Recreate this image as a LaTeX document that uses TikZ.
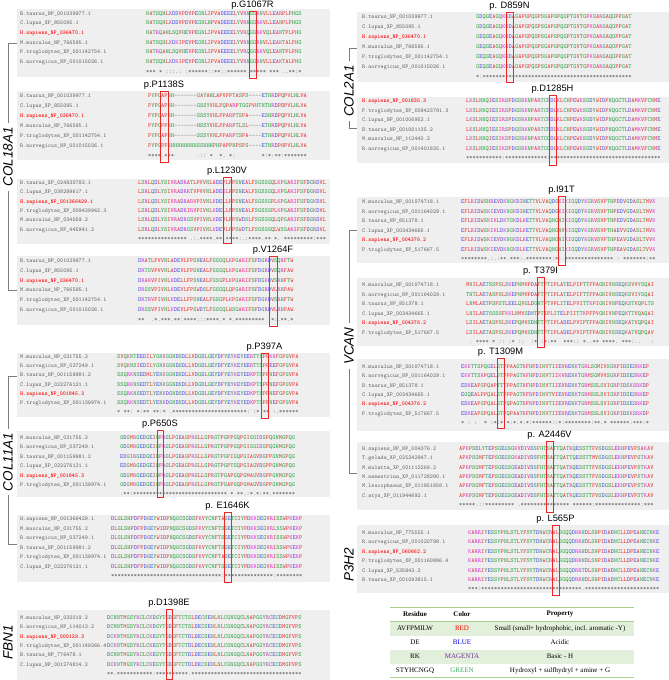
\documentclass[tikz,border=0pt]{standalone}
\usepackage{fontspec}
\setmainfont{Liberation Serif}
\setsansfont{Liberation Sans}
\usetikzlibrary{positioning}

\definecolor{aared}{RGB}{232,48,48}
\definecolor{aablue}{RGB}{72,72,232}
\definecolor{aamag}{RGB}{215,45,215}
\definecolor{aagreen}{RGB}{40,160,65}
\definecolor{aagap}{RGB}{120,120,120}
\definecolor{panelgray}{RGB}{239,239,239}
\definecolor{namegray}{RGB}{95,95,95}
\definecolor{brkgray}{RGB}{125,125,125}
\definecolor{mutred}{RGB}{232,40,40}
\definecolor{tabband}{RGB}{226,239,218}
\definecolor{tabline}{RGB}{169,208,142}
\definecolor{tabpurple}{RGB}{112,48,160}
\definecolor{tabgreen}{RGB}{60,170,100}

\tikzset{
  sp/.style={anchor=west, inner sep=0pt, text=namegray, text height=4pt, text depth=1pt,
    font=\fontsize{5.8}{6}\selectfont\ttfamily},
  hs/.style={sp, text=red, font=\fontsize{5.8}{6}\selectfont\ttfamily\bfseries},
  aa/.style={anchor=west, inner sep=0pt, text height=4.3pt, text depth=1.2pt,
    font=\fontsize{6.1}{6}\selectfont\ttfamily},
  cons/.style={aa, text=namegray},
  panel/.style={fill=panelgray},
  mutbox/.style={draw=mutred, line width=0.9pt, inner sep=0pt},
  mlab/.style={inner sep=0.5pt, text height=6.8pt, text depth=1.9pt, font=\fontsize{9.3}{10}\selectfont\sffamily},
  gene/.style={rotate=90, inner xsep=4pt, inner ysep=0pt, font=\fontsize{13.5}{14}\selectfont\sffamily\itshape},
  brk/.style={draw=brkgray, line width=0.6pt},
  th/.style={font=\fontsize{7}{8}\selectfont\bfseries},
  td/.style={font=\fontsize{7}{8}\selectfont},
}

\begin{document}
\begin{tikzpicture}[x=1pt,y=-1pt]
  \useasboundingbox (0,0) rectangle (669,680);

  %% residue colours
  \foreach \res in {A,V,F,P,M,I,L,W}{\expandafter\gdef\csname rcl\res\endcsname{\color{aared}}}
  \foreach \res in {D,E}{\expandafter\gdef\csname rcl\res\endcsname{\color{aablue}}}
  \foreach \res in {R,K}{\expandafter\gdef\csname rcl\res\endcsname{\color{aamag}}}
  \foreach \res in {S,T,Y,H,C,N,G,Q}{\expandafter\gdef\csname rcl\res\endcsname{\color{aagreen}}}
  \expandafter\gdef\csname rcl-\endcsname{\color{aagap}}

  \newcommand\aaseq[1]{\aaloop#1\relax}
  \def\aaloop#1{\ifx\relax#1\else{\csname rcl#1\endcsname#1}\expandafter\aaloop\fi}
  \newcommand\seqrow[5][sp]{\node[#1] (#2) at (\nmx,#3) {#4}; \node[aa] (#2s) at (\sqx,#3) {\aaseq{#5}};}
  \newcommand\consrow[3]{\node[cons] (#1) at (\sqx,#2) {#3};}
  \newcommand\mutat[6]{\node[mutbox, minimum width=#4, minimum height=#5] (#1) at (#2,#3) {};
    \node[mlab, above=0pt of #1] (#1l) {#6};}

  %% ---------------- left column ----------------
  \fill[panel] (17,9) rectangle (330,77); %% G1067R
  \def\nmx{20}\def\sqx{146}
  \seqrow{a1}{13.5}{B.taurus\_NP\_001039977.1}{NATSQHLKDDVPDVPEGNLIPVADEEELYVRNGGRNVLLEARPLPHGS}
  \seqrow{a2}{23.2}{C.lupus\_XP\_855095.1}{NATSQHLKDDVPDVPEGNLHPVADEEELYVRNGGRKVLLEANPLPHGS}
  \seqrow[hs]{a3}{32.9}{H.sapiens\_NP\_036470.1}{NATRQAHLSQVHEVPEGNLIPVAEEEELYVRQGGRKVQLEANTPLPHG}
  \seqrow{a4}{42.6}{M.musculus\_NP\_766595.1}{NATSQHLKDKIPEVPEGNLIPVADEEELYVRNGGRNVLLEAKTALPHG}
  \seqrow{a5}{52.3}{P.troglodytes\_XP\_001142754.1}{NATRQAHLSQVHEVPEGNLIPVAEEEELYVRQGGRKVQLEANTPLPHG}
  \seqrow{a6}{62}{R.norvegicus\_NP\_001015026.1}{NATSQHLKDKIPEVPEGNLIPVADEEELYVRNGGRNVLLEAKTALPHG}
  \consrow{a7}{71.7}{***~*~:::.:~:******::**::******.*****~***~..**:*}
  \mutat{m1}{252.5}{44.5}{7}{67}{p.G1067R}

  \fill[panel] (17,91) rectangle (330,160); %% P1138S
  \def\nmx{20}\def\sqx{148}
  \seqrow{b1}{96}{B.taurus\_NP\_001039977.1}{PYPGAPHH-------GAYAHLAPVPPTASPS----ETHRDPQPVLHLVA}
  \seqrow{b2}{106}{C.lupus\_XP\_855095.1}{PYPGAPHH-------GSSYVHLPQPARPTGGPVHTHTHRDPDPVLHLVA}
  \seqrow[hs]{b3}{116}{H.sapiens\_NP\_036470.1}{PYPGAPHH-------SSSYVHLPPARPTSPA----ESHRDPQPVLHLVA}
  \seqrow{b4}{126}{M.musculus\_NP\_766595.1}{PYPGPPHH-------HSSYVHLPPARPTLSL----ETHRDPQPVLHLVA}
  \seqrow{b5}{136}{P.troglodytes\_XP\_001142754.1}{PYPGAPHH-------SSSYVHLPPARPTSPA----ETHRDPQPVLHLVA}
  \seqrow{b6}{146}{R.norvegicus\_NP\_001015026.1}{PYPGPPHHHHHHHHHSSHHHPHPAPPHPSPS----ETHRDPHPVLHLVA}
  \consrow{b7}{155.5}{****.***~~~~~~~.::~*~~*.~*:~~~~~~~~*:*:**:*******}
  \mutat{m2}{164}{126.5}{8}{71}{p.P1138S}

  \fill[panel] (17,179) rectangle (330,244); %% L1230V
  \def\nmx{20}\def\sqx{138}
  \seqrow{c1}{183}{B.taurus\_XP\_024830782.1}{LSRLQDLYSIVRADRATLPVVNLADEPLFPSNEALFSGSSGQLKPGARIFSFDGRDVL}
  \seqrow{c2}{192.3}{C.lupus\_XP\_038299617.1}{LSRLQDLYSIVRADRRTVPVVNLADEKLFPSNEALFSGSSGQLKPGARIFSFDGRDVL}
  \seqrow[hs]{c3}{201.6}{H.sapiens\_NP\_001366429.1}{LSRLQDLYSIVRADRARVPIVNLKDELLFPSNEALFSGSSGPLKPGARIFSFDGKDVL}
  \seqrow{c4}{210.9}{P.troglodytes\_XP\_009439942.3}{LSRLQDLYSIVRADRIRVPIVNLKDELLFPSNEALFSGSSGPLKPGARIFSFDGKDVL}
  \seqrow{c5}{220.2}{M.musculus\_NP\_034059.2}{LSRLQDLYSIVRADRGSVPIVNLKDEVLFPSWDSLFSGSGGQLQPGARIFSFDGRDVL}
  \seqrow{c6}{229.5}{R.norvegicus\_NP\_445941.2}{LSRLQDLYSIVRADRGSVPIVNLKDEVLFPSWDTLFSGSGGQLWSGARIFSFDGRDVL}
  \consrow{c7}{238.8}{***************~.:.****.**:****:.:****.**~*.~*********:***}
  \mutat{m3}{227}{210}{8}{66}{p.L1230V}

  \fill[panel] (17,256) rectangle (330,325); %% V1264F
  \def\nmx{20}\def\sqx{138}
  \seqrow{d1}{261}{B.taurus\_NP\_001039977.1}{DRATLPVVNLADEVLFPSNEALFGSGQLKPGARIFSFDGRDVSQRFTW}
  \seqrow{d2}{270.8}{C.lupus\_XP\_855095.1}{DRTGVPVVNLADEVLFPSNEALFGSGQLKPGARIFSFDGRDVSQRFAW}
  \seqrow[hs]{d3}{280.6}{H.sapiens\_NP\_036470.1}{DRARVPIVNLKDELLFPSNEALFGSGPLKPGARIFSFDGKDVSRHFTW}
  \seqrow{d4}{290.4}{M.musculus\_NP\_766595.1}{DRGSVPIVNLKDEVLFPSWDSLFGSGQLQPGARIFSFDGRDVLRHPAW}
  \seqrow{d5}{300.2}{P.troglodytes\_XP\_001142754.1}{DRTRVPIVNLKDELLFPSNEALFGSGPLKPGARIFSFDGKDVSRHFTW}
  \seqrow{d6}{310}{R.norvegicus\_NP\_001015026.1}{DRGSVPIVNLKDEVLFPSWDTLFGSGQLWSGARIFSFDGRDVLRHPAW}
  \consrow{d7}{319.8}{**~~.*.***.**:****:::****.*~*.*********~.*:.**.*}
  \mutat{m4}{273}{291}{8}{70}{p.V1264F}

  \fill[panel] (17,353) rectangle (330,417); %% P397A
  \def\nmx{20}\def\sqx{117}
  \seqrow{e1}{357}{M.musculus\_NP\_031755.2}{SVQKNTEEDILYGNKGGNDSDLLVDGDLGEYDFYEYKEYEERTTSPPKKFGPGVPA}
  \seqrow{e2}{366.2}{R.norvegicus\_NP\_037249.1}{SVQKNSIEDILYGNKGGNDSDLLVDGDLGEYDFYEYKEYEERTTSPPEEFGPGVPA}
  \seqrow{e3}{375.4}{B.taurus\_NP\_001159981.2}{SSQRKNSEDMLYENKGGNDSDLLVDGDLGEYDFYEYKEYEDKPTSPPNEFGPGVPA}
  \seqrow{e4}{384.6}{C.lupus\_XP\_022276121.1}{SSQRKNSEDTLYENKGGNDSDLLVDGDLGEYDFYEYKEYEDKPTSPPNEFGPGVPA}
  \seqrow[hs]{e5}{393.8}{H.sapiens\_NP\_001845.3}{SSQRKNSEDTLYENKDGNDSDLLVDGDLGEYDFYEYKEYEDKPTSPPNEFGPGVPA}
  \seqrow{e6}{403}{P.troglodytes\_XP\_001139974.1}{SSQRKNSEDTLYENKDGNDSDLLVDGDLGEYDFYEYKEYEDKPTSPPNEFGPGVPA}
  \consrow{e7}{412.2}{*~**:~*:**~**:*~.***********************:~:*~**~:.******}
  \mutat{m5}{264.5}{385.5}{7}{65}{p.P397A}

  \fill[panel] (17,431) rectangle (330,497); %% P650S
  \def\nmx{20}\def\sqx{120}
  \seqrow{f1}{438}{M.musculus\_NP\_031755.2}{GDGMRGEDGEIGPRGLPGEAGPRGLLGPRGTPGPPGQPGIGGIDGPQGNMGPQG}
  \seqrow{f2}{447.4}{R.norvegicus\_NP\_037249.1}{GDGMRGEDGEIGPRGLPGEAGPRGLLGPRGTPGPPGQPGIGGIDGPQGNMGPQG}
  \seqrow{f3}{456.8}{B.taurus\_NP\_001159981.2}{EDGIRGEDGEIGPRGLPGEAGPRGLLGPRGTPGPIGQPGIAGVDGPPGNMGPQG}
  \seqrow{f4}{466.2}{C.lupus\_XP\_022276121.1}{EDGMRGEDGEIGPRGLPGEAGPRGLLGPRGTPGPTGQPGIAGVDGPPGNMGPQG}
  \seqrow[hs]{f5}{475.6}{H.sapiens\_NP\_001845.3}{GDGMRGEDGEIGPRGLPGEAGPRGLLGPRGTPGAPGQPGMAGVDGPPGNMGPQG}
  \seqrow{f6}{485}{P.troglodytes\_XP\_001139974.1}{GDGMRGEDGEIGPRGLPGEAGPRGLLGPRGTPGAPGQPGMAGVDGPPGNMGPQG}
  \consrow{f7}{494.4}{.**:*****************************~*~**.:*.*:**.*******}
  \mutat{m6}{160}{463.5}{6}{67}{p.P650S}

  \fill[panel] (17,515) rectangle (330,582); %% E1646K
  \def\nmx{20}\def\sqx{111}
  \seqrow{g1}{519}{H.sapiens\_NP\_001366429.1}{DLGLSHPDFPDGEYWIDPNQGCSGDSFKVYCNFTAGETCIYPDKKSEGVRISSWPKEKP}
  \seqrow{g2}{528.5}{M.musculus\_NP\_031755.2}{DLGLSHPDFPDGEYWIDPNQGCSGDSFKVYCNFTSGETCIYPDKKSEGVRLSSWPKEKP}
  \seqrow{g3}{538}{R.norvegicus\_NP\_037249.1}{DLGLSHPDFPDGEYWIDPNQGCSGDSFKVYCNFTSGETCIYPDKKSEGVRISSWPKEKP}
  \seqrow{g4}{547.5}{B.taurus\_NP\_001159981.2}{DLGLSHPDFPDGEYWIDPNQGCSGDSFKVYCNFTSGETCIYPDKKSEGVRISSWPKEKP}
  \seqrow{g5}{557}{P.troglodytes\_XP\_001139974.1}{DLGLSHPDFPDGEYWIDPNQGCSGDSFKVYCNFTAGETCIYPDKKSEGVRISSWPKEKP}
  \seqrow{g6}{566.5}{C.lupus\_XP\_022276121.1}{DLGLSHPDFPDGEYWIDPNQGCSGDSFKVYCNFTSGETCIYPDKKSEGVRISSWPKEKP}
  \consrow{g7}{576}{**********************************:***************:********}
  \mutat{m7}{227.5}{547}{7}{70}{p. E1646K}

  \fill[panel] (17,610) rectangle (330,680); %% D1398E
  \def\nmx{20}\def\sqx{107}
  \seqrow{h1}{618}{M.musculus\_NP\_032019.2}{DCNNTMGSYRCLCKDGYTGDGFTCTSLDECSENLNLCGNGQCLNAPGGYRCECDMGFVPS}
  \seqrow{h2}{627.3}{R.norvegicus\_NP\_114013.2}{DCNNTMGSYRCLCKDGYTGDGFTCTSLDECSENLNLCGNGQCLNAPGGYRCECDMGFVPS}
  \seqrow[hs]{h3}{636.6}{H.sapiens\_NP\_000129.3}{DCKNTMGSYRCLCKEGYTGDGFTCTDLDECSENLNLCGNGQCLNAPGGYRCECDMGFVPS}
  \seqrow{h4}{645.9}{P.troglodytes\_XP\_001149266.4}{DCKNTMGSYRCLCKEGYTGDGFTCTDLDECSENLNLCGNGQCLNAPGGYRCECDMGFVPS}
  \seqrow{h5}{655.2}{B.taurus\_NP\_776478.1}{DCNNTMGSYRCLCKEGYTGDGFTCTDLDECSENLNLCGNGQCLNAPGGYRCECDMGFVPS}
  \seqrow{h6}{664.5}{C.lupus\_NP\_001274814.2}{DCKNTMGSYRCLCKEGYTGDGFTCTDLDECSENLNLCGNGQCLNAPGGYRCECDMGFVPS}
  \consrow{h7}{673.8}{**.***********:**********.**********************************}
  \mutat{m8}{169}{644}{6}{70}{p.D1398E}

  %% ---------------- right column ----------------
  \fill[panel] (357,12) rectangle (669,82); %% D859N
  \def\nmx{362}\def\sqx{476}
  \seqrow{i1}{16.5}{B.taurus\_NP\_001039977.1}{GDQGEAGQKGDAGAPGPQGPSGAPGPQGPTGVTGPKGARGAQGPPGAT}
  \seqrow{i2}{26.5}{C.lupus\_XP\_855095.1}{GDQGEAGQKGDAGAPGPQGPSGAPGPQGPTGVTGPKGARGAQGPPGAT}
  \seqrow[hs]{i3}{36.5}{H.sapiens\_NP\_036470.1}{GEQGEAGQKGDAGAPGPQGPSGAPGPQGPTGVTGPKGARGAQGPPGAT}
  \seqrow{i4}{46.5}{M.musculus\_NP\_766595.1}{GEQGEAGQKGDAGAPGPQGPSGAPGPQGPTGVTGPKGARGAQGPPGAT}
  \seqrow{i5}{56.5}{P.troglodytes\_XP\_001142754.1}{GEQGEAGQKGDAGAPGPQGPSGAPGPQGPTGVTGPKGARGAQGPPGAT}
  \seqrow{i6}{66.5}{R.norvegicus\_NP\_001015026.1}{GEQGEAGQKGDAGAPGPQGPSGAPGPQGPTGVTGPKGARGAQGPPGAT}
  \consrow{i7}{76.5}{*:**********************************************}
  \mutat{n1}{509.5}{47}{7}{70}{p. D859N}

  \fill[panel] (357,97) rectangle (669,163); %% D1285H
  \def\nmx{362}\def\sqx{466}
  \seqrow[hs]{j1}{101}{H.sapiens\_NP\_001835.3}{LKSLNNQIESIRSPDGSRKNPARTCRDLKLCHPEWKSGDYWIDPNQGCTLDAMKVFCNME}
  \seqrow{j2}{110.5}{P.troglodytes\_XP\_009423791.3}{LKSLNNQIESIRSPDGSRKNPARTCRDLKLCHPEWKSGDYWIDPNQGCTLDAMKVFCNME}
  \seqrow{j3}{120}{C.lupus\_NP\_001006952.1}{LKSLNNQIESIRSPDGSRKNPARTCRDLKLCHPEWKSGDYWIDPNQGCTLDAMKVFCNME}
  \seqrow{j4}{129.5}{B.taurus\_NP\_001001135.2}{LKSLNNQIESIRSPDGSRKNPARTCRDLKLCHPEWKSGDYWIDPNQGCTLDAMKVFCNME}
  \seqrow{j5}{139}{M.musculus\_NP\_112440.2}{LKSLNNQIESIKSPDGSRKNPARTCQDLKLCHPEWKSGDYWIDPNQGCTLDAMKVFCNME}
  \seqrow{j6}{148.5}{R.norvegicus\_NP\_001401825.1}{LKSLNNQIESIKSPDGSRKNPARTCQDLKLCHPEWKSGDYWIDPNQGCTLDAMKVFCNME}
  \consrow{j7}{158}{***********:*************:**********************************}
  \mutat{n2}{552.5}{130}{7}{70}{p.D1285H}

  \fill[panel] (357,197) rectangle (669,263); %% I91T
  \def\nmx{362}\def\sqx{461}
  \seqrow{k1}{202}{M.musculus\_NP\_001074718.1}{EFLRIDWSHREVDKNGKDIHETTVLVAQDGKIKIGQDYKGRVSVPTHPDDVGDASLTMVK}
  \seqrow{k2}{211.5}{R.norvegicus\_NP\_001164029.1}{EFLRIDWSKIEVDKNGKDIHETTVLVAQDGKIKIGQDYKGRVSVPTHPEDVGDASLTMVK}
  \seqrow{k3}{221}{B.taurus\_NP\_851378.1}{EFLRIDWSKIKLDKTGKDLKETTVLVAQNGNIKIGQDYKGRVSVPTHPEDVGDASLTMVK}
  \seqrow{k4}{230.5}{C.lupus\_XP\_003434665.1}{EFLRIDWSKIKLDKNGKDLKETTVLVAQNGNVKIGQDYKGRVSVPTHAEVVGDASLTMVK}
  \seqrow[hs]{k5}{240}{H.sapiens\_NP\_004376.2}{EFLRIDWSKIEVDKNGKDLKETTVLVAQNGNIKIGQDYKGRVSVPTHPEAVGDASLTVVK}
  \seqrow{k6}{249.5}{P.troglodytes\_XP\_517667.5}{EFLRIDWSKIEVDKNGKDLKETTVLVAQNGNIKIGQDYKGRVSVPTHPEAVGDASLTVVK}
  \consrow{k7}{259}{********.:.:**.***:.********:*:.***************~:~*******:**}
  \mutat{n3}{561.5}{230.5}{7}{69}{p.I91T}

  \fill[panel] (357,278) rectangle (669,346); %% T379I
  \def\nmx{362}\def\sqx{466}
  \seqrow{l1}{285}{M.musculus\_NP\_001074718.1}{MNILAETSSPSLSKEPNMVPDAFTPTIPLATELPIPTTFPAGNIVNSEQKSVVYSQAI}
  \seqrow{l2}{294.5}{R.norvegicus\_NP\_001164029.1}{TNTLAETASPSLSKEPNMVPDAFTPTIPLATELPIFTTFPAGNIVNSEQKSVIYSQAI}
  \seqrow{l3}{304}{B.taurus\_NP\_851378.1}{LNMLAETPSPSTLEELQVGLDGNTPTVPLITELPVITTKPIGNIVNPEQKSTVQPLTS}
  \seqrow{l4}{313.5}{C.lupus\_XP\_003434665.1}{LNILAETSSSSFKKLNMVSDNTPTIPLITELPIITTKPFPVGNIVNPEQKTTVQAQAI}
  \seqrow[hs]{l5}{323}{H.sapiens\_NP\_004376.2}{LSILAETASPSLSKEPQMVSDNTTPTIPLADELPVIPTFPAGNIVNSEQKATVQPQAI}
  \seqrow{l6}{332.5}{P.troglodytes\_XP\_517667.5}{LSILAETASPSLSKEPQMVSDNTTPTIPLADELPVIPTFPAGNIVSSEQKATVQPQAV}
  \consrow{l7}{342}{~.~****~*~::~:*~::~~:*~:*:**~~***::~*..**~****.~***:..~~~:}
  \mutat{n4}{540.5}{312}{7}{70}{p. T379I}

  \fill[panel] (357,359) rectangle (669,431); %% T1309M
  \def\nmx{362}\def\sqx{461}
  \seqrow{o1}{367}{M.musculus\_NP\_001074718.1}{EKKTTSPQGELSTPPAAGTKFHPDINVTIIEVRENKTGRLSGMIVSGRPIDSESRKEP}
  \seqrow{o2}{376.3}{R.norvegicus\_NP\_001164029.1}{EKKTTSKPQELSTPPPAGTKFHPDINVTIIKVRENKTGRMSGMVVSGRPIDSESRKEP}
  \seqrow{o3}{385.6}{B.taurus\_NP\_851378.1}{EDKEAPGPQAPTTTPPASTKFHPDINVTIIEVRENKTGRMSSLSVIGRPIDSKSRKDP}
  \seqrow{o4}{394.9}{C.lupus\_XP\_003434665.1}{EGQEALPPQALSTPPPAGTKFRPDINVTVIEVRENKTGRMSSLSVIGRPIDSESRKEP}
  \seqrow[hs]{o5}{404.2}{H.sapiens\_NP\_004376.2}{EDKEAPGPQALSTPQPAGTKFRPDINVTIIEVRENKTGRMSSLSVIGRPIDSESRKEP}
  \seqrow{o6}{413.5}{P.troglodytes\_XP\_517667.5}{EDKEAPGPQALSTPQPAATKFHPDINVTIIEVRENKTGRMSSLSVIGRPIDSKSRKDP}
  \consrow{o7}{422.8}{*~:~:~~*~:*:*~*:*.*.*:******::*:********:**.*~******:***:*}
  \mutat{n5}{500.5}{393}{7}{70}{p. T1309M}

  \fill[panel] (357,442) rectangle (669,510); %% A2446V
  \def\nmx{362}\def\sqx{459}
  \seqrow{q1}{449}{H.sapiens\_NP\_NP\_004376.2}{APKPSDLYTEPSGEGSGKVDIVDSFHTSATTQATRQESSTTFVSDGSLEKHPEVPSAKAV}
  \seqrow{q2}{458.3}{T.gelada\_XP\_025242847.1}{APKPSGMFTEPSGEGSGKADIVDSFHTSATTQATTQESSTTMVSDGSLEKHPEVPSTKAV}
  \seqrow{q3}{467.6}{M.mulatta\_XP\_001112269.2}{APKPSGMFTEPSGEGSGEADIVDSFHTSATTQATRQESSTTFVSDGSLEKHPEVPSTKAV}
  \seqrow{q4}{476.9}{M.nemestrina\_XP\_011728280.1}{APKPSGMFTEPSGEGSGEADIVDSFHTSATTQATRQESSTTFVSDGSLEKHPEVPSTKAV}
  \seqrow{q5}{486.2}{M.leucophaeus\_XP\_011851858.1}{APKPSGMFTEPSGEGSGEADIVDSFHTSATTQATRQESSTTFVSDGSLEKHPEVPSTKAV}
  \seqrow{q6}{495.5}{C.atys\_XP\_011944692.1}{APKPSGMFTEPSGEGSGEADIVDSFHTSATTQATRQESSTTFVSDGSLEKHPEVPSTKAV}
  \consrow{q7}{504.8}{*****.::*********~.***************~******:**************:***}
  \mutat{n6}{549.5}{476.5}{7}{71}{p. A2446V}

  \fill[panel] (357,525) rectangle (669,593); %% L565P
  \def\nmx{362}\def\sqx{468}
  \seqrow{u1}{533}{M.musculus\_NP\_775555.1}{KARRIYESSYPNLSTLYFSYTDNWCRALSGQQDRRNDLSNPIDADNCLLDPEANECNKE}
  \seqrow{u2}{542.4}{R.norvegicus\_NP\_001020798.1}{KARRIYESSYPNLSTLYFSYTDNWCRALSGQQDRRNDLSNPIDADNCLLDPEANECNKE}
  \seqrow[hs]{u3}{551.8}{H.sapiens\_NP\_060662.2}{KARRIYESSYPNLSTLYFSYTDNWCRALSGQQDRRNDLSNPIDADNCLLDPEANECNKE}
  \seqrow{u4}{561.2}{P.troglodytes\_XP\_001160886.4}{KARRIYESSYPNLSTLYFSYTDNWCRALSGQQDRRNDLSNPIDADNCLLDPEANECNKE}
  \seqrow{u5}{570.6}{C.lupus\_XP\_535843.2}{KARRIYESSYPNLSTLYFSYTDNWCRALSGQQDRRTDLSNPIDADNCLLDPEANECNKE}
  \seqrow{u6}{580}{B.taurus\_XP\_001093815.1}{KARRIYESSYPNLSTLYFSYTDNWCRALSGQQDRRNDLSNPIDADNCLLDPEANECNKE}
  \consrow{u7}{589.4}{***:*******************************.***********************}
  \mutat{n7}{555.5}{560}{7}{70}{p. L565P}

  %% ---------------- gene labels and brackets ----------------
  \node[gene] (col18) at (8,157) {COL18A1};
  \node[gene] (col11) at (8,462) {COL11A1};
  \node[gene] (fbn) at (8,642) {FBN1};
  \node[gene] (col2) at (349,91) {COL2A1};
  \node[gene] (vcan) at (349,346) {VCAN};
  \node[gene] (p3h) at (349,565) {P3H2};

  \coordinate (t18) at (16.5,43);   \coordinate (b18) at (16.5,290);
  \coordinate (t11) at (16.5,376);  \coordinate (b11) at (16.5,544);
  \coordinate (t2) at (357,48);     \coordinate (b2) at (357,128);
  \coordinate (tv) at (357,230);    \coordinate (bv) at (357,473);

  \draw[brk] (col18.east) |- (t18); \draw[brk] (col18.west) |- (b18);
  \draw[brk] (col11.east) |- (t11); \draw[brk] (col11.west) |- (b11);
  \draw[brk] (col2.east) |- (t2);   \draw[brk] (col2.west) |- (b2);
  \draw[brk] (vcan.east) |- (tv);   \draw[brk] (vcan.west) |- (bv);

  %% ---------------- colour key ----------------
  \fill[tabband] (390,621) rectangle (634,635.5);
  \fill[tabband] (390,649.5) rectangle (634,663.5);
  \draw[tabline, line width=0.8pt] (390,607) -- (634,607);
  \draw[tabline, line width=0.8pt] (390,621) -- (634,621);
  \draw[tabline, line width=0.8pt] (390,677.5) -- (634,677.5);

  \node[th] (kh1) at (415,614) {Residue};
  \node[th] (kh2) at (462,614) {Color};
  \node[th] (kh3) at (560,614) {Property};

  \node[td] (k1a) at (415,628.5) {AVFPMILW};
  \node[td, text=red] (k1b) at (462,628.5) {RED};
  \node[td] (k1c) at (560,628.5) {Small (small+ hydrophobic, incl. aromatic -Y)};
  \node[td] (k2a) at (415,642.5) {DE};
  \node[td, text=blue] (k2b) at (462,642.5) {BLUE};
  \node[td] (k2c) at (560,642.5) {Acidic};
  \node[td] (k3a) at (415,656.5) {RK};
  \node[td, text=tabpurple] (k3b) at (462,656.5) {MAGENTA};
  \node[td] (k3c) at (560,656.5) {Basic - H};
  \node[td] (k4a) at (415,670.5) {STYHCNGQ};
  \node[td, text=tabgreen] (k4b) at (462,670.5) {GREEN};
  \node[td] (k4c) at (560,670.5) {Hydroxyl + sulfhydryl + amine + G};

\end{tikzpicture}
\end{document}
